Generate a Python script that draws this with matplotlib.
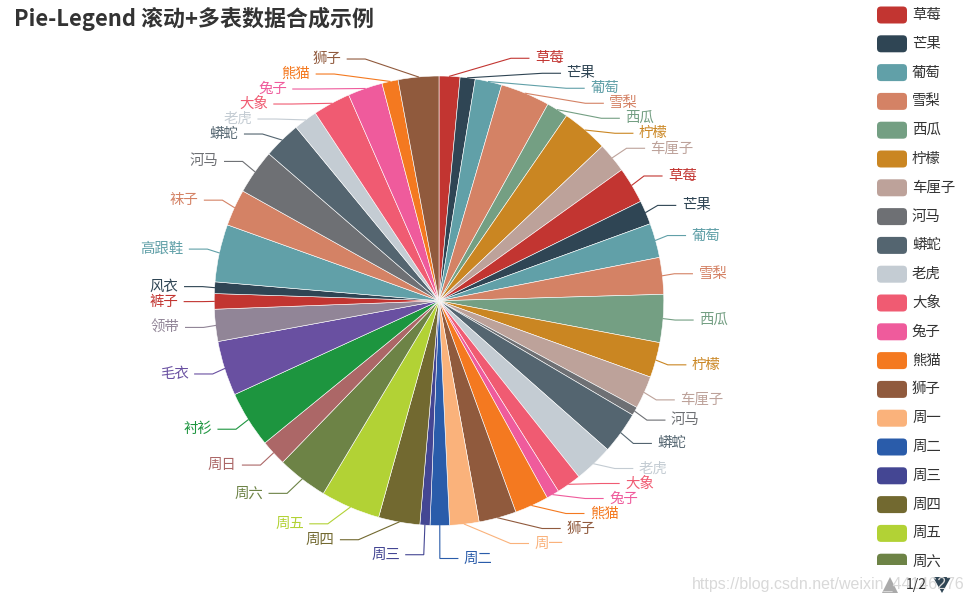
import numpy as np
import matplotlib
matplotlib.use("Agg")
import matplotlib.pyplot as plt
from matplotlib.patches import FancyBboxPatch, Polygon, Rectangle

plt.rcParams['font.family'] = ['Noto Sans CJK SC', 'DejaVu Sans']

# ---------------------------------------------------------------
# données
# ---------------------------------------------------------------
fruits = ["草莓", "芒果", "葡萄", "雪梨", "西瓜", "柠檬", "车厘子"]
animals = ["河马", "蟒蛇", "老虎", "大象", "兔子", "熊猫", "狮子"]
week = ["周一", "周二", "周三", "周四", "周五", "周六", "周日"]
clothes = ["衬衫", "毛衣", "领带", "裤子", "风衣", "高跟鞋", "袜子"]

fruit_vals_1 = [54, 39, 69, 128, 56, 120, 78]
fruit_vals_2 = [94, 62, 89, 95, 124, 91, 85]
animal_vals_1 = [22, 109, 101, 64, 33, 88, 97]
week_vals = [76, 50, 26, 107, 154, 131, 67]
clothes_vals = [146, 142, 83, 40, 30, 149, 95]
animal_vals_2 = [116, 97, 61, 97, 90, 42, 105]

names = fruits + fruits + animals + week + clothes + animals
values = (fruit_vals_1 + fruit_vals_2 + animal_vals_1 + week_vals
          + clothes_vals + animal_vals_2)

palette = ['#c23531', '#2f4554', '#61a0a8', '#d48265', '#749f83', '#ca8622',
           '#bda29a', '#6e7074', '#546570', '#c4ccd3', '#f05b72', '#ef5b9c',
           '#f47920', '#905a3d', '#fab27b', '#2a5caa', '#444693', '#726930',
           '#b2d235', '#6d8346', '#ac6767', '#1d953f', '#6950a1', '#918597']

legend_names = fruits + animals + week + clothes
color_of = {n: palette[i % len(palette)] for i, n in enumerate(legend_names)}
colors = [color_of[n] for n in names]

# ---------------------------------------------------------------
# figure en coordonnées pixels
# ---------------------------------------------------------------
W, H = 971, 603
fig = plt.figure(figsize=(W / 100, H / 100), dpi=100)
ax = fig.add_axes([0, 0, 1, 1])

def Y(py):
    return H - py

cx, cy, r = 439, 300.8, 224.8
L1, L2, GAP, LH = 18, 18, 6, 15
MAX_BOTTOM = 566

ax.pie(values, colors=colors, startangle=90, counterclock=False,
       center=(cx, Y(cy)), radius=r,
       wedgeprops=dict(edgecolor='white', linewidth=0.4))
ax.set_xlim(0, W)
ax.set_ylim(0, H)
ax.set_aspect('auto')
ax.axis('off')

# ---------------------------------------------------------------
# étiquettes : y poussés vers le bas, x sur un cercle
# ---------------------------------------------------------------
vals = np.array(values, dtype=float)
ends = np.cumsum(vals) / vals.sum() * 2 * np.pi
mids = ends - vals / vals.sum() * np.pi

labels = []
for i, th in enumerate(mids):
    s, c = np.sin(th), -np.cos(th)
    d = 1 if s >= 0 else -1
    labels.append(dict(i=i, dir=d, s=s, y=cy + (r + L1) * c,
                       rx=cx + r * s, ry=cy + r * c))


def adjust(lst, d):
    lst.sort(key=lambda e: e['y'])
    n = len(lst)
    for k in range(1, n):
        if lst[k]['y'] < lst[k - 1]['y'] + LH:
            lst[k]['y'] = lst[k - 1]['y'] + LH
    if lst[-1]['y'] + LH / 2 > MAX_BOTTOM:
        lst[-1]['y'] = MAX_BOTTOM - LH / 2
        for k in range(n - 2, -1, -1):
            lst[k]['y'] = min(lst[k]['y'], lst[k + 1]['y'] - LH)

    Rt = r + L1 + L2
    up = [e for e in lst if e['y'] < cy]
    down = [e for e in lst if e['y'] >= cy]
    for part, is_down in ((up, False), (down, True)):
        last = np.inf if is_down else 0
        for e in part:
            dy = abs(e['y'] - cy)
            if dy < r + L1 + 3:
                dx = np.sqrt(Rt * Rt - dy * dy)
            else:
                dx = (r + L1) * abs(e['s']) + L2 + GAP
            if is_down and dx >= last:
                dx = last - 10
            if not is_down and dx <= last:
                dx = last + 10
            e['x'] = cx + dx * d
            last = dx


adjust([e for e in labels if e['dir'] > 0], 1)
adjust([e for e in labels if e['dir'] < 0], -1)

for e in labels:
    col = colors[e['i']]
    d = e['dir']
    x_end = e['x'] - d * GAP
    x_elb = x_end - d * L2
    ax.plot([e['rx'], x_elb, x_end], [Y(e['ry']), Y(e['y']), Y(e['y'])],
            color=col, lw=0.8, solid_joinstyle='miter')
    ax.text(e['x'], Y(e['y']), names[e['i']], color=col,
            fontsize=10.4, ha='left' if d > 0 else 'right', va='center')

# ---------------------------------------------------------------
# titre
# ---------------------------------------------------------------
ax.text(14, Y(19), "Pie-Legend 滚动+多表数据合成示例", fontsize=15.8,
        fontweight='bold', color='#333333', ha='left', va='center')

# ---------------------------------------------------------------
# légende défilante (page 1)
# ---------------------------------------------------------------
clip = Rectangle((860, Y(565)), 111, 565, transform=ax.transData,
                 facecolor='none', edgecolor='none')
ax.add_patch(clip)
for k, n in enumerate(legend_names[:20]):
    yc = 15 + k * 28.8
    box = FancyBboxPatch((877, Y(yc + 8.5)), 30, 17,
                         boxstyle="round,pad=0,rounding_size=4",
                         facecolor=color_of[n], edgecolor='none')
    ax.add_patch(box)
    box.set_clip_path(clip)
    t = ax.text(912, Y(yc), n, fontsize=10.4, color='#333333',
                ha='left', va='center')
    t.set_clip_path(clip)

# filigrane
ax.text(692, Y(584), "https://blog.csdn.net/weixin_44146276",
        family=['Liberation Sans', 'DejaVu Sans'], fontsize=11.5,
        color='#d9d9d9', ha='left', va='center')

# pagination
ax.add_patch(Polygon([(882, Y(593)), (898, Y(593)), (890, Y(577))],
                     closed=True, facecolor='#aaaaaa', edgecolor='none'))
ax.add_patch(Polygon([(933, Y(577)), (951, Y(577)), (942, Y(593))],
                     closed=True, facecolor='#2f4554', edgecolor='none'))
ax.text(916.5, Y(585), "1/2", fontsize=10, color='#333333',
        ha='center', va='center')

fig.savefig("out.png", dpi=100)
